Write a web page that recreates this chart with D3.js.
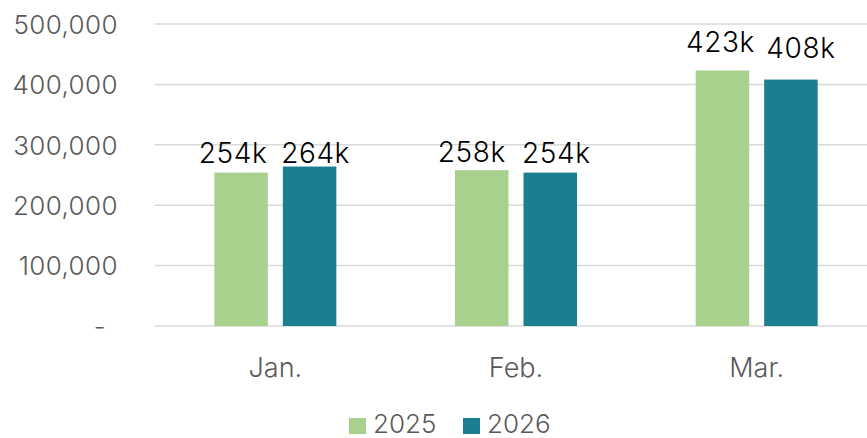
<!DOCTYPE html>
<html>
<head>
<meta charset="utf-8">
<script src="https://cdn.jsdelivr.net/npm/d3@7"></script>
<style>
  body { margin: 0; background: #fff; }
  svg { display: block; font-family: Inter, "Noto Sans", sans-serif; }
</style>
</head>
<body>
<div id="chart"></div>
<script>
// Data
const months = ['Jan.', 'Feb.', 'Mar.'];
const series = ['2025', '2026'];
const values2025 = [254000, 258000, 423000];
const values2026 = [264000, 254000, 408000];
const yTicks = [0, 100000, 200000, 300000, 400000, 500000];

// labels were dragged apart by hand in the original, [dx, dy] per bar
const labelNudge2025 = [[-8, -10], [-10, -8], [-2, -19]];
const labelNudge2026 = [[6, -4], [6, -10], [10, -22]];

const colors = ['#a9d18e', '#1a7f8e'];
const width = 867;
const height = 438;

const data = months.map((m, i) => ({
  month: m,
  values: [values2025[i], values2026[i]],
  nudges: [labelNudge2025[i], labelNudge2026[i]],
}));

const svg = d3.select('#chart')
  .append('svg')
  .attr('width', width)
  .attr('height', height);

// scales
const x0 = d3.scaleBand(months, [155, 877]);
const x1 = d3.scaleBand(series, [-61, 61]).paddingInner(0.219);
const y = d3.scaleLinear([0, 500000], [326, 24]);

// gridlines
svg.append('g')
  .selectAll('line')
  .data(yTicks)
  .join('line')
  .attr('x1', 155)
  .attr('x2', width)
  .attr('y1', (d) => y(d))
  .attr('y2', (d) => y(d))
  .attr('stroke', '#d9d9d9')
  .attr('stroke-width', 1.5);

// y axis labels
svg.append('g')
  .selectAll('text')
  .data(yTicks)
  .join('text')
  .attr('x', (d) => (d === 0 ? 106 : 118))
  .attr('y', (d) => y(d))
  .attr('dy', '0.38em')
  .attr('text-anchor', 'end')
  .attr('fill', '#595959')
  .style('font-size', '26px')
  .style('letter-spacing', '0.4px')
  .style('font-weight', 300)
  .text((d) => (d === 0 ? '-' : d3.format(',')(d)));

// bars
const groups = svg.append('g')
  .selectAll('g')
  .data(data)
  .join('g')
  .attr('transform', (d) => `translate(${x0(d.month) + x0.bandwidth() / 2},0)`);

groups.selectAll('rect')
  .data((d) => d.values.map((v, i) => ({ key: series[i], value: v, i })))
  .join('rect')
  .attr('x', (d) => x1(d.key))
  .attr('width', x1.bandwidth())
  .attr('y', (d) => y(d.value))
  .attr('height', (d) => y(0) - y(d.value))
  .attr('fill', (d) => colors[d.i]);

groups.selectAll('text.val')
  .data((d) => d.values.map((v, i) => ({ key: series[i], value: v, nudge: d.nudges[i] })))
  .join('text')
  .attr('class', 'val')
  .attr('x', (d) => x1(d.key) + x1.bandwidth() / 2 + d.nudge[0])
  .attr('y', (d) => y(d.value) + d.nudge[1])
  .attr('text-anchor', 'middle')
  .attr('fill', '#000')
  .style('font-size', '28px')
  .style('letter-spacing', '0.6px')
  .style('font-weight', 300)
  .text((d) => `${Math.round(d.value / 1000)}k`);

// x axis labels
svg.append('g')
  .selectAll('text')
  .data(months)
  .join('text')
  .attr('x', (d) => x0(d) + x0.bandwidth() / 2)
  .attr('y', 377)
  .attr('text-anchor', 'middle')
  .attr('fill', '#595959')
  .style('font-size', '27px')
  .style('font-weight', 300)
  .text((d) => d);

// legend
const legend = svg.append('g')
  .selectAll('g')
  .data(series)
  .join('g')
  .attr('transform', (d, i) => `translate(${349 + i * 114},418)`);

legend.append('rect')
  .attr('width', 17)
  .attr('height', 16)
  .attr('fill', (d, i) => colors[i]);

legend.append('text')
  .attr('x', 24)
  .attr('y', 15)
  .attr('fill', '#595959')
  .style('font-size', '26px')
  .style('font-weight', 350)
  .text((d) => d);
</script>
</body>
</html>
